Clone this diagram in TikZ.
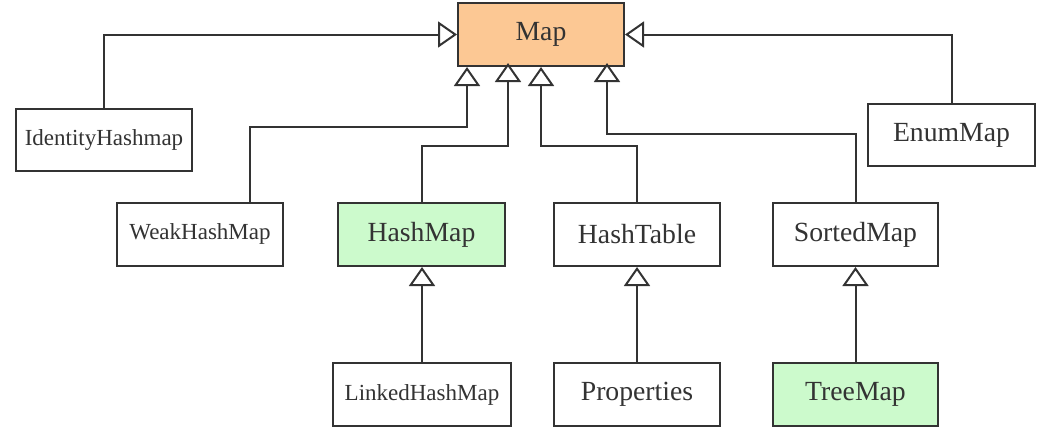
\documentclass[tikz,border=0pt]{standalone}
\usepackage{fontspec}
\setmainfont{Liberation Serif}
\usetikzlibrary{arrows.meta}
\definecolor{ink}{HTML}{333333}
\definecolor{peach}{HTML}{FCC894}
\definecolor{mint}{HTML}{CCFACC}
\tikzset{
  cls/.style={draw=ink, line width=2pt, fill=white, text=ink,
    minimum height=63pt, inner sep=0pt,
    font=\fontsize{27.7}{30}\selectfont},
  small/.style={font=\fontsize{23}{26}\selectfont},
  inh/.style={draw=ink, line width=2pt,
    -{Triangle[length=19pt, width=26pt, fill=white]}},
}
\begin{document}
\begin{tikzpicture}[x=1pt, y=-1pt]
\useasboundingbox (0,0) rectangle (1047,437);

% root
\node[cls, fill=peach, minimum width=166pt] (map) at (541,34.5) {Map};

% first level
\node[cls, small, minimum width=176pt, minimum height=62pt] (ident) at (104,140) {IdentityHashmap};
\node[cls, minimum width=167pt, minimum height=62pt] (enum) at (951.5,135) {EnumMap};
\node[cls, small, minimum width=166pt] (weak) at (200,234) {WeakHashMap};
\node[cls, fill=mint, minimum width=167pt] (hash) at (421.5,234.5) {HashMap};
\node[cls, minimum width=166pt] (table) at (637,234.5) {HashTable};
\node[cls, minimum width=165pt] (sorted) at (855.5,234.5) {SortedMap};

% second level
\node[cls, small, minimum width=178pt] (linked) at (422,394.5) {LinkedHashMap};
\node[cls, minimum width=166pt] (props) at (637,394.5) {Properties};
\node[cls, fill=mint, minimum width=165pt] (tree) at (855.5,394.5) {TreeMap};

% attachment points under the root
\coordinate (mapA) at ([xshift=-74pt]map.south);
\coordinate (mapB) at ([xshift=-33pt, yshift=4pt]map.south);
\coordinate (mapC) at (map.south);
\coordinate (mapD) at ([xshift=66pt, yshift=4pt]map.south);

% generalisation connectors
\draw[inh] (ident.north) |- (map.west);
\draw[inh] (enum.north) |- (map.east);
\draw[inh] ([xshift=50pt]weak.north) -- ++(0,-75) -| (mapA);
\draw[inh] ([xshift=0.5pt]hash.north) -- ++(0,-56) -| (mapB);
\draw[inh] (table.north) -- ++(0,-56) -| (mapC);
\draw[inh] ([xshift=0.5pt]sorted.north) -- ++(0,-68) -| (mapD);

\draw[inh] (linked.north) -- (linked.north |- hash.south);
\draw[inh] (props.north) -- (table.south);
\draw[inh] (tree.north) -- (sorted.south);
\end{tikzpicture}
\end{document}
